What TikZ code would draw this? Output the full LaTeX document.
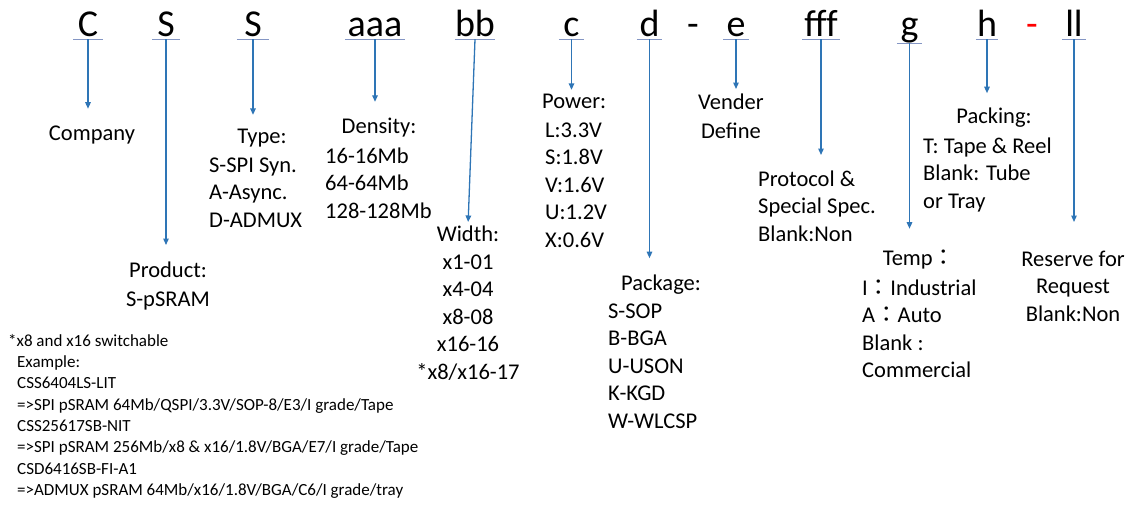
\documentclass[tikz,border=0pt]{standalone}
\usepackage{fontspec}
\setmainfont{Carlito}
\newfontfamily\cjk{Noto Sans CJK JP}
\usepackage{tikz}
\usetikzlibrary{arrows.meta}
\definecolor{CodeBlue}{HTML}{2E75B6}
\definecolor{LineBlue}{HTML}{8496C4}
\definecolor{DashRed}{HTML}{FF0000}

\begin{document}
\begin{tikzpicture}[x=1pt,y=-1pt,
    partchar/.style={anchor=base,inner sep=0pt,text depth=3pt,font=\fontsize{38}{38}\selectfont},
    desc/.style={inner sep=0pt,font=\fontsize{22.5}{27.5}\selectfont},
    notetext/.style={inner sep=0pt,font=\fontsize{17}{21.3}\selectfont},
    uline/.style={LineBlue,line width=1pt},
    downarrow/.style={CodeBlue,line width=1.3pt,-{Triangle[length=6.5pt,width=5.5pt]}}]
    \useasboundingbox (0,0) rectangle (1136,504);

    \node[partchar,minimum width=29pt] (cC) at (88,36) {C};
    \node[partchar,minimum width=27pt] (cS) at (166,36) {S};
    \node[partchar,minimum width=32pt] (cSS) at (253,36) {S};
    \node[partchar,minimum width=60pt] (caaa) at (375,36) {aaa};
    \node[partchar,minimum width=40pt] (cbb) at (475,36) {bb};
    \node[partchar,minimum width=25pt] (cc) at (571.5,36) {c};
    \node[partchar,minimum width=25pt] (cd) at (649.5,36) {d};
    \node[partchar] (dashA) at (693,36) {-};
    \node[partchar,minimum width=25pt] (ce) at (736,36) {e};
    \node[partchar,minimum width=37pt] (cfff) at (821,36) {fff};
    \node[partchar,minimum width=25pt,text depth=7pt] (cg) at (909.5,36) {g};
    \node[partchar,minimum width=22pt] (ch) at (987,36) {h};
    \node[partchar,DashRed] (dashB) at (1032,36) {-};
    \node[partchar,minimum width=24pt] (cll) at (1074,36) {ll};

    \draw[uline] (cC.south west) -- (cC.south east);
    \draw[uline] (cS.south west) -- (cS.south east);
    \draw[uline] (cSS.south west) -- (cSS.south east);
    \draw[uline] (caaa.south west) -- (caaa.south east);
    \draw[uline] (cbb.south west) -- (cbb.south east);
    \draw[uline] (cc.south west) -- (cc.south east);
    \draw[uline] (cd.south west) -- (cd.south east);
    \draw[uline] (ce.south west) -- (ce.south east);
    \draw[uline] (cfff.south west) -- (cfff.south east);
    \draw[uline] (cg.south west) -- (cg.south east);
    \draw[uline] (ch.south west) -- (ch.south east);
    \draw[uline] (cll.south west) -- (cll.south east);

    \node[desc,anchor=base] (company) at (92,140) {Company};
    \node[desc,anchor=base] (type) at (262,143) {Type:};
    \node[desc,anchor=north west,align=left] (typelist) at (209,157.5) {S-SPI Syn.\\A-Async.\\D-ADMUX};
    \node[desc,anchor=base] (density) at (379,133) {Density:};
    \node[desc,anchor=north west,align=left] (densitylist) at (325,147.5) {16-16Mb\\64-64Mb\\128-128Mb};
    \node[desc,anchor=base west] (power) at (542,108) {Power:};
    \node[desc,anchor=north west,align=left] (powerlist) at (545,122.5) {L:3.3V\\S:1.8V\\V:1.6V\\U:1.2V\\X:0.6V};
    \node[desc,anchor=north,align=center] (vender) at (731,93.5) {Vender\\[1.5pt]Define};
    \node[desc,anchor=north,align=center] (product) at (168,262) {Product:\\[1.5pt]S-pSRAM};
    \node[desc,anchor=north,align=center] (width) at (468,226) {Width:\\x1-01\\x4-04\\x8-08\\x16-16\\*x8/x16-17};
    \node[desc,anchor=base] (package) at (661,290) {Package:};
    \node[desc,anchor=north west,align=left] (packagelist) at (608,303.5) {S-SOP\\B-BGA\\U-USON\\K-KGD\\W-WLCSP};
    \node[desc,anchor=north west,align=left] (protocol) at (758,170.5) {Protocol \&\\Special Spec.\\Blank:Non};
    \node[desc,anchor=base] (packing) at (994,123) {Packing:};
    \node[desc,anchor=north west,align=left] (packinglist) at (923,137.5) {T: Tape \& Reel\\Blank: Tube\\or Tray};
    \node[desc,anchor=base] (temp) at (919,265) {Temp{\cjk ：}};
    \node[desc,anchor=north west,align=left] (templist) at (862,279.5) {I{\cjk ：}Industrial\\A{\cjk ：}Auto\\Blank :\\Commercial};
    \node[desc,anchor=north,align=center] (reserve) at (1073,250.5) {Reserve for\\Request\\Blank:Non};
    \node[notetext,anchor=north west,align=left] (notes) at (8,334) {*x8 and x16 switchable\\
        \hspace*{9pt}Example:\\
        \hspace*{9pt}CSS6404LS-LIT\\
        \hspace*{9pt}=>SPI pSRAM 64Mb/QSPI/3.3V/SOP-8/E3/I grade/Tape\\
        \hspace*{9pt}CSS25617SB-NIT\\
        \hspace*{9pt}=>SPI pSRAM 256Mb/x8 \& x16/1.8V/BGA/E7/I grade/Tape\\
        \hspace*{9pt}CSD6416SB-FI-A1\\
        \hspace*{9pt}=>ADMUX pSRAM 64Mb/x16/1.8V/BGA/C6/I grade/tray};

    \draw[downarrow,shorten >=16.5pt] (cC.south) -- (cC.south |- company.north);
    \draw[downarrow,shorten >=17pt] (cS.south) -- (cS.south |- product.north);
    \draw[downarrow,shorten >=13.5pt] (cSS.south) -- (cSS.south |- type.north);
    \draw[downarrow,shorten >=15.5pt] (caaa.south) -- (caaa.south |- density.north);
    \draw[downarrow,shorten >=4pt] (cbb.south) -- (width.north);
    \draw[downarrow,shorten >=3.5pt] (cc.south) -- (cc.south |- power.north);
    \draw[downarrow,shorten >=16pt] (cd.south) -- (cd.south |- package.north);
    \draw[downarrow,shorten >=4.5pt] (ce.south) -- (ce.south |- vender.north);
    \draw[downarrow,shorten >=15.5pt] (cfff.south) -- (cfff.south |- protocol.north);
    \draw[downarrow,shorten >=20.5pt] (cg.south) -- (cg.south |- temp.north);
    \draw[downarrow,shorten >=14pt] (ch.south) -- (ch.south |- packing.north);
    \draw[downarrow,shorten >=28.5pt] (cll.south) -- (cll.south |- reserve.north);
\end{tikzpicture}
\end{document}
